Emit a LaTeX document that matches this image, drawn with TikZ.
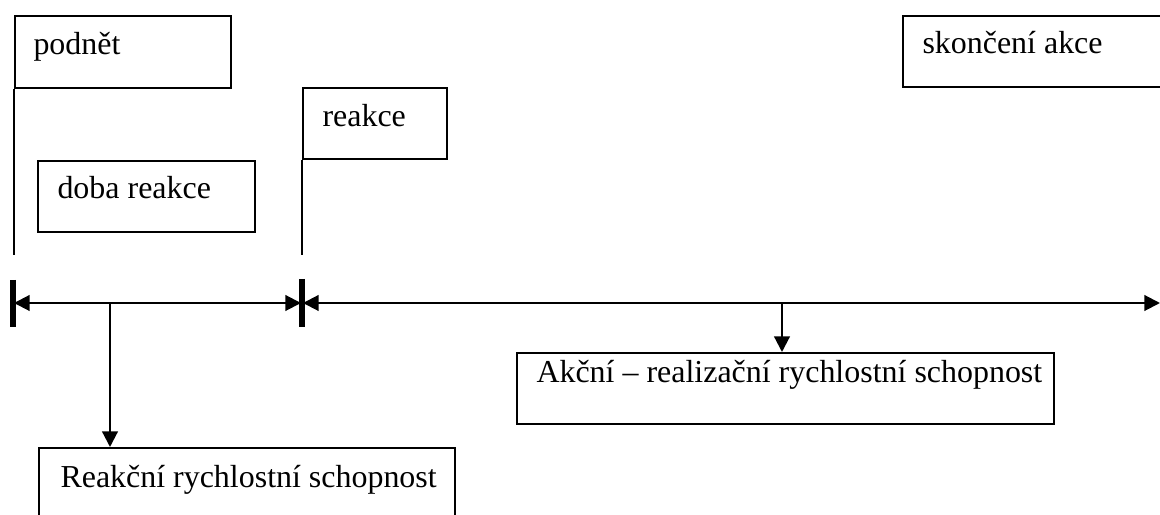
\documentclass[tikz,border=0pt]{standalone}
\usepackage{fontspec}
\setmainfont{Liberation Serif}
\usetikzlibrary{arrows.meta,calc}

% one picture unit is one pixel of the layout
\def\u{0.385pt}

\begin{document}
\begin{tikzpicture}[x=\u,y=-\u,
  box/.style={draw,line width=0.85pt,anchor=north west,inner sep=0pt},
  txt/.style={anchor=base west,inner sep=0pt,font=\fontsize{12.3}{14}\selectfont},
  tip/.style={{Triangle[length=6pt,width=6pt]}-{Triangle[length=6pt,width=6pt]},line width=0.8pt}]

\clip (0,0) rectangle (1160,515);

% Boxes at the top
\node[box,minimum width={216*\u},minimum height={72*\u}] (podnet) at (14,15) {};
\node[txt] (podnettxt) at ($(podnet.north west)+(19,40)$) {podnět};

\node[box,minimum width={217*\u},minimum height={71*\u}] (doba) at (37,160) {};
\node[txt] (dobatxt) at ($(doba.north west)+(20,39)$) {doba reakce};

\node[box,minimum width={144*\u},minimum height={71*\u}] (reakce) at (302,87) {};
\node[txt] (reakcetxt) at ($(reakce.north west)+(20,40)$) {reakce};

\node[box,minimum width={300*\u},minimum height={71*\u}] (konec) at (902,15) {};
\node[txt] (konectxt) at ($(konec.north west)+(20,39)$) {skončení akce};

% Time axis
\coordinate (t0) at (13,303);
\coordinate (t1) at (302,303);
\coordinate (t2) at (1160,303);
\draw[line width=2.3pt] ($(t0)+(0,-23)$) -- ($(t0)+(0,24)$);
\draw[line width=2.3pt] ($(t1)+(0,-24)$) -- ($(t1)+(0,24)$);
\draw[tip] ($(t0)+(1,0)$) -- ($(t1)+(-1,0)$);
\draw[tip] ($(t1)+(1,0)$) -- (t2);

% Drop lines from the marks
\coordinate (p0) at (14,255);
\coordinate (p1) at (302,255);
\draw[line width=0.85pt] (podnet.south west) -- (p0);
\draw[line width=0.85pt] (reakce.south west) -- (p1);

% Boxes below the axis
\node[box,minimum width={416*\u},minimum height={100*\u}] (reakcni) at (38,447) {};
\node[txt] (reakcnitxt) at ($(reakcni.north west)+(22,41)$) {Reakční rychlostní schopnost};

\node[box,minimum width={537*\u},minimum height={71*\u}] (akcni) at (516,352) {};
\node[txt] (akcnitxt) at ($(akcni.north west)+(20,31)$) {Akční – realizační rychlostní schopnost};

% Arrows down
\coordinate (a0) at (110,303);
\coordinate (a1) at (782,303);
\draw[-{Triangle[length=6pt,width=6pt]},line width=0.85pt] (a0) -- (a0 |- reakcni.north);
\draw[-{Triangle[length=6pt,width=6pt]},line width=0.85pt] (a1) -- (a1 |- akcni.north);

\end{tikzpicture}
\end{document}
